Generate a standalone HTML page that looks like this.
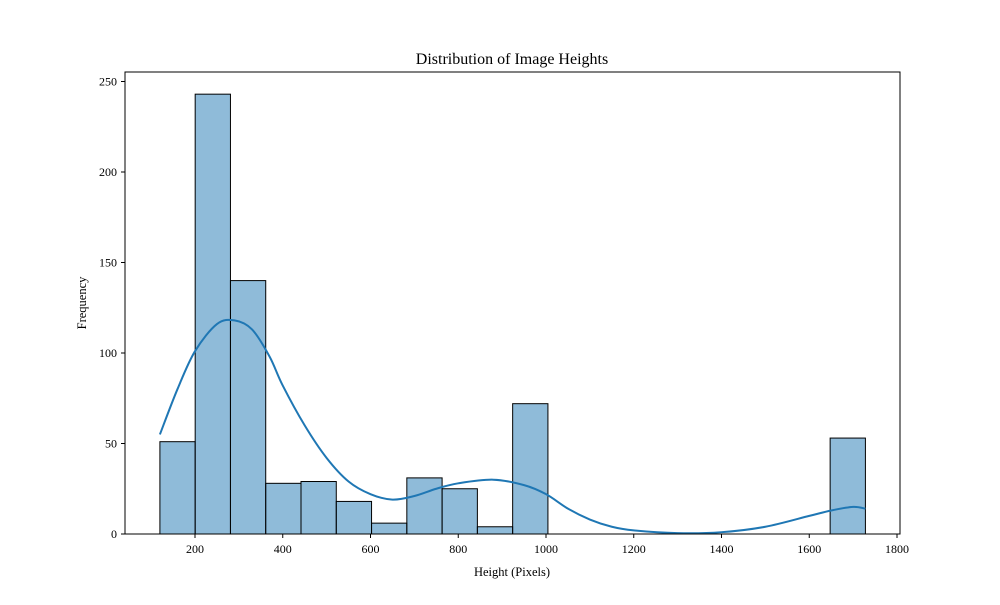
<!DOCTYPE html>
<html><head><meta charset="utf-8"><style>
body{margin:0;background:#fff}
svg text{font-family:"Liberation Serif",serif;fill:#000}
</style></head><body>
<svg id="chart" width="1000" height="600" xmlns="http://www.w3.org/2000/svg">
<text x="512" y="64" font-size="16" text-anchor="middle">Distribution of Image Heights</text>
<text x="512" y="576" font-size="12.5" text-anchor="middle">Height (Pixels)</text>
<text x="0" y="0" font-size="12.5" text-anchor="middle" transform="translate(86,303) rotate(-90)">Frequency</text>
<g id="bars"></g>
<path id="kde" fill="none" stroke="#1f77b4" stroke-width="2"/>
<g id="axes"></g>
<rect x="125" y="72" width="775" height="462" fill="none" stroke="#000" stroke-width="1"/>
</svg>
<script>
const binStart = 120;
const binWidth = 80.4;
const counts = [51,243,140,28,29,18,6,31,25,4,72,0,0,0,0,0,0,0,0,53];
const xTicks = [200,400,600,800,1000,1200,1400,1600,1800];
const yTicks = [0,50,100,150,200,250];
const kdeX = [120,160,200,250,290,330,370,400,450,500,550,600,650,700,750,800,880,950,1000,1050,1100,1150,1200,1300,1400,1500,1600,1650,1700,1728];
const kdeY = [55,80,101,116,118,113,98,82,60,42,29,22,19,21,25,28,30,27,22,14,8,4,2,0.5,1,4,10,13,15,14];

const NS='http://www.w3.org/2000/svg';
const X=v=>107.25+v*0.43875;
const Y=v=>534-v*1.81;
const bars=document.getElementById('bars');
counts.forEach((c,i)=>{
  if(c<=0) return;
  const r=document.createElementNS(NS,'rect');
  const x0=X(binStart+i*binWidth), x1=X(binStart+(i+1)*binWidth);
  r.setAttribute('x',x0);r.setAttribute('y',Y(c));
  r.setAttribute('width',x1-x0);r.setAttribute('height',Y(0)-Y(c));
  r.setAttribute('fill','rgba(31,119,180,0.5)');r.setAttribute('stroke','#000');r.setAttribute('stroke-width','1');
  
  
  bars.appendChild(r);
});
const pts=kdeX.map((x,i)=>[X(x),Y(kdeY[i])]);
let d='M'+pts[0][0]+','+pts[0][1];
for(let i=0;i<pts.length-1;i++){
  const p0=pts[i-1]||pts[i],p1=pts[i],p2=pts[i+1],p3=pts[i+2]||p2;
  const c1=[p1[0]+(p2[0]-p0[0])/6,p1[1]+(p2[1]-p0[1])/6];
  const c2=[p2[0]-(p3[0]-p1[0])/6,p2[1]-(p3[1]-p1[1])/6];
  d+=' C'+c1+' '+c2+' '+p2;
}
document.getElementById('kde').setAttribute('d',d);
const axes=document.getElementById('axes');
xTicks.forEach(t=>{
  const l=document.createElementNS(NS,'line');
  l.setAttribute('x1',X(t));l.setAttribute('x2',X(t));l.setAttribute('y1',534);l.setAttribute('y2',538);l.setAttribute('stroke','#000');
  
  
  axes.appendChild(l);
  const tx=document.createElementNS(NS,'text');
  tx.setAttribute('x',X(t));tx.setAttribute('y',553);tx.setAttribute('font-size','12');tx.setAttribute('text-anchor','middle');
  tx.textContent=t;
  
  
  axes.appendChild(tx);
});
yTicks.forEach(t=>{
  const l=document.createElementNS(NS,'line');
  l.setAttribute('x1',121);l.setAttribute('x2',125);l.setAttribute('y1',Y(t));l.setAttribute('y2',Y(t));l.setAttribute('stroke','#000');
  
  
  axes.appendChild(l);
  const tx=document.createElementNS(NS,'text');
  tx.setAttribute('x',117);tx.setAttribute('y',Y(t)+4);tx.setAttribute('font-size','12');tx.setAttribute('text-anchor','end');
  tx.textContent=t;
  
  
  axes.appendChild(tx);
});
</script>
</body></html>
